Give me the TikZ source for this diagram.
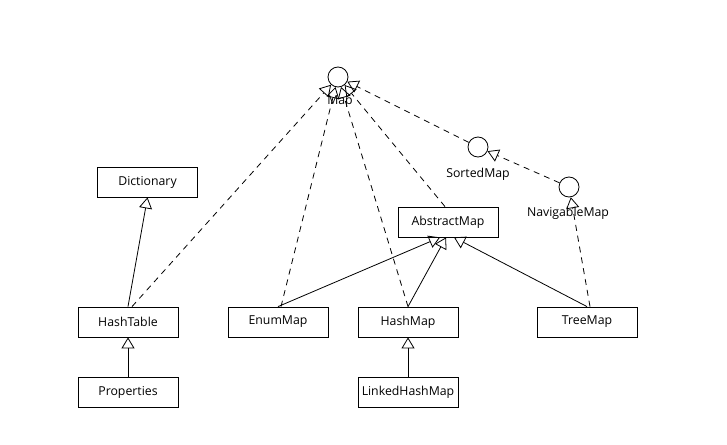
\documentclass[tikz,border=0pt]{standalone}
\usepackage{fontspec}
\setmainfont{Open Sans}
\usetikzlibrary{arrows.meta}
\begin{document}
\begin{tikzpicture}[x=1pt,y=-1pt,
  font=\fontsize{12.3}{14}\selectfont,
  cls/.style={draw,line width=0.8pt,minimum width=100pt,minimum height=30pt,inner sep=0pt},
  iface/.style={draw,circle,line width=0.8pt,minimum size=20pt,inner sep=0pt},
  lbl/.style={inner sep=0pt},
  inh/.style={line width=0.8pt,-{Triangle[open,length=11pt,width=13pt]}},
  impl/.style={inh,dash pattern=on 6pt off 5pt}]
\useasboundingbox (0,0) rectangle (727,444);

% interfaces
\node[iface] (map) at (338,77) {};
\node[lbl] (mapl) at (340,102) {Map};
\node[iface] (sorted) at (478,147) {};
\node[lbl] (sortedl) at (478,174) {SortedMap};
\node[iface] (navig) at (569,187) {};
\node[lbl] (navigl) at (568,213) {NavigableMap};

% classes
\node[cls] (dict) at (147.5,182) {Dictionary};
\node[cls] (abs) at (448,222) {AbstractMap};
\node[cls] (htab) at (128,322) {HashTable};
\node[cls] (enum) at (278,322) {EnumMap};
\node[cls] (hmap) at (408,322) {HashMap};
\node[cls] (tmap) at (587,322) {TreeMap};
\node[cls] (props) at (128,392) {Properties};
\node[cls] (lhm) at (408,392) {LinkedHashMap};

% interface hierarchy
\draw[impl] (sorted) -- (map);
\draw[impl] (navig) -- (sorted);

% implementations of Map
\draw[impl] ([xshift=4pt]htab.north) -- (map);
\draw[impl] ([xshift=3pt]enum.north) -- (map);
\draw[impl] (hmap.north) -- (map);
\draw[impl] ([xshift=-3pt]abs.north) -- (map);
\draw[impl] ([xshift=3pt]tmap.north) -- (navig);

% class inheritance
\draw[inh] (htab.north) -- (dict.south);
\draw[inh] (props) -- (htab);
\draw[inh] (lhm) -- (hmap);
\draw[inh] (enum.north) -- ([xshift=-8pt]abs.south);
\draw[inh] (hmap.north) -- ([xshift=-2pt]abs.south);
\draw[inh] (tmap.north) -- ([xshift=6pt]abs.south);
\end{tikzpicture}
\end{document}
